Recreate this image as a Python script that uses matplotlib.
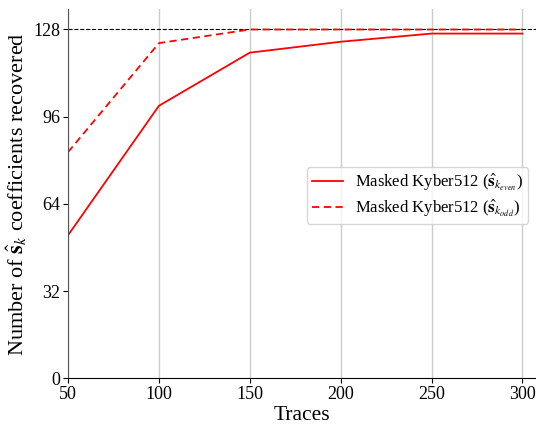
import matplotlib
matplotlib.use("Agg")
import matplotlib.pyplot as plt

plt.rcParams["font.family"] = "serif"
plt.rcParams["font.serif"] = ["Liberation Serif", "DejaVu Serif"]
plt.rcParams["mathtext.fontset"] = "stix"

traces = [50, 100, 150, 200, 250, 300]
even_recovered = [52.5, 100, 119.5, 123.5, 126.5, 126.5]
odd_recovered = [83, 123, 128, 128, 128, 128]
total_coeffs = 128

fig = plt.figure(figsize=(5.36, 4.24), dpi=100)
ax = fig.add_axes([0.127, 0.108, 0.873, 0.87])

ax.plot(traces, even_recovered, color="red", lw=1.3,
        label=r"Masked Kyber512 ($\hat{\mathbf{s}}_{k_{even}}$)")
ax.plot(traces, odd_recovered, color="red", lw=1.3, ls=(0, (4, 2.5)),
        label=r"Masked Kyber512 ($\hat{\mathbf{s}}_{k_{odd}}$)")
ax.axhline(total_coeffs, color="black", lw=0.8, ls="--", zorder=1)

ax.set_xlim(50, 307.5)
ax.set_ylim(0, 135.4)
ax.set_xticks(traces)
ax.set_yticks([0, 32, 64, 96, 128])
ax.tick_params(labelsize=13, pad=2)
ax.grid(axis="x", color="#cccccc", lw=1)
ax.set_axisbelow(True)
for side in ("top", "right"):
    ax.spines[side].set_visible(False)
ax.spines["left"].set_color("#555555")

ax.set_xlabel("Traces", fontsize=15.5, labelpad=2)
ax.set_ylabel(r"Number of $\hat{\mathbf{s}}_k$ coefficients recovered", fontsize=16, labelpad=3)

ax.legend(loc="upper right", bbox_to_anchor=(0.985, 0.606), bbox_transform=fig.transFigure,
          borderaxespad=0, fontsize=12, fancybox=True, framealpha=0.8,
          handlelength=1.9, handletextpad=0.7, labelspacing=0.25, borderpad=0.3)

fig.savefig("out.png", dpi=100)
